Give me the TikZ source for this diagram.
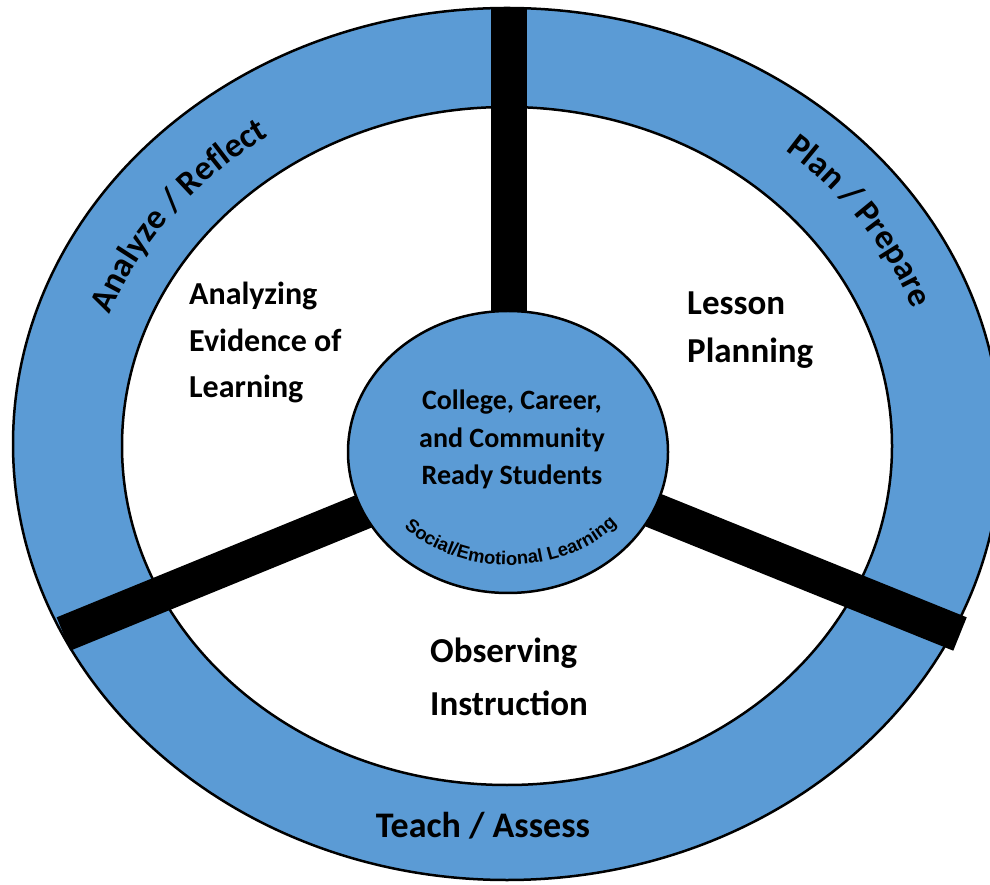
\documentclass[tikz,border=0pt]{standalone}
\usepackage{fontspec}
\setmainfont{Carlito}
\newfontfamily\socialfont{Liberation Sans}
\usetikzlibrary{decorations.text,calc,shapes.geometric}
\definecolor{ringblue}{RGB}{91,155,213}
\newcommand\bandfont{\bfseries\fontsize{34.5}{34.5}\selectfont}
\begin{document}
\begin{tikzpicture}[x=1pt,y=1pt,
  outline/.style={draw=black, line width=2.5pt},
  spoke/.style={draw=black, line width=36pt, line cap=butt},
  phase/.style={font=\bfseries\fontsize{34}{40}\selectfont, inner sep=0pt, anchor=base west},
  hubtext/.style={font=\bfseries\fontsize{28}{34}\selectfont, inner sep=0pt, anchor=base},
]
\useasboundingbox (0,0) rectangle (990,884);
\coordinate (C) at (507,440);
\coordinate (Ci) at (507,438);
\coordinate (hubc) at (509,432);
% rings
\draw[outline, fill=ringblue] (C) ellipse[x radius=494, y radius=436];
\draw[outline, fill=white] (Ci) ellipse[x radius=385, y radius=339];
% spokes
\coordinate (topend) at (509,876);
\coordinate (leftend) at (63.5,250);
\coordinate (rightend) at (960,250);
\draw[spoke] (hubc) -- (topend);
\draw[spoke] (hubc) -- (leftend);
\draw[spoke] (hubc) -- (rightend);
% hub
\node[outline, fill=ringblue, ellipse, minimum width=320pt, minimum height=282pt, inner sep=0pt] (hub) at (508,432) {};
\node[hubtext] (hub1) at (512,474) {College, Career,};
\node[hubtext] (hub2) at (512,436) {and Community};
\node[hubtext] (hub3) at (512,399) {Ready Students};
\path[decorate, decoration={text along path, text align=center,
  text={|\socialfont\bfseries\fontsize{18.5}{18.5}\selectfont|Social/Emotional Learning}}]
  ($(hubc)+(219:141 and 113)$) arc[start angle=219, end angle=323, x radius=141, y radius=113];
% ring labels
\path[decorate, decoration={text along path, text align=center,
  text={|\bandfont|Analyze / Reflect}}]
  ($(C)+(172.5:424 and 372)$) arc[start angle=172.5, end angle=112.5, x radius=424, y radius=372];
\path[decorate, decoration={text along path, text align=center,
  text={|\bandfont|Plan / Prepare}}]
  ($(C)+(60:434 and 382)$) arc[start angle=60, end angle=10, x radius=434, y radius=382];
\node[font=\bfseries\fontsize{36}{36}\selectfont, inner sep=0pt, anchor=base] (teach) at (483,47) {Teach / Assess};
% sector labels
\node[phase, font=\bfseries\fontsize{32}{38}\selectfont] (ana1) at (189,579) {Analyzing};
\node[phase, font=\bfseries\fontsize{32}{38}\selectfont] (ana2) at (189,532) {Evidence of};
\node[phase, font=\bfseries\fontsize{32}{38}\selectfont] (ana3) at (189,486) {Learning};
\node[phase, font=\bfseries\fontsize{35}{40}\selectfont] (les1) at (687,569) {Lesson};
\node[phase, font=\bfseries\fontsize{35}{40}\selectfont] (les2) at (687,521) {Planning};
\node[phase, font=\bfseries\fontsize{35}{40}\selectfont] (obs1) at (430,222) {Observing};
\node[phase, font=\bfseries\fontsize{35}{40}\selectfont] (obs2) at (430,169) {Instruction};
\end{tikzpicture}
\end{document}
